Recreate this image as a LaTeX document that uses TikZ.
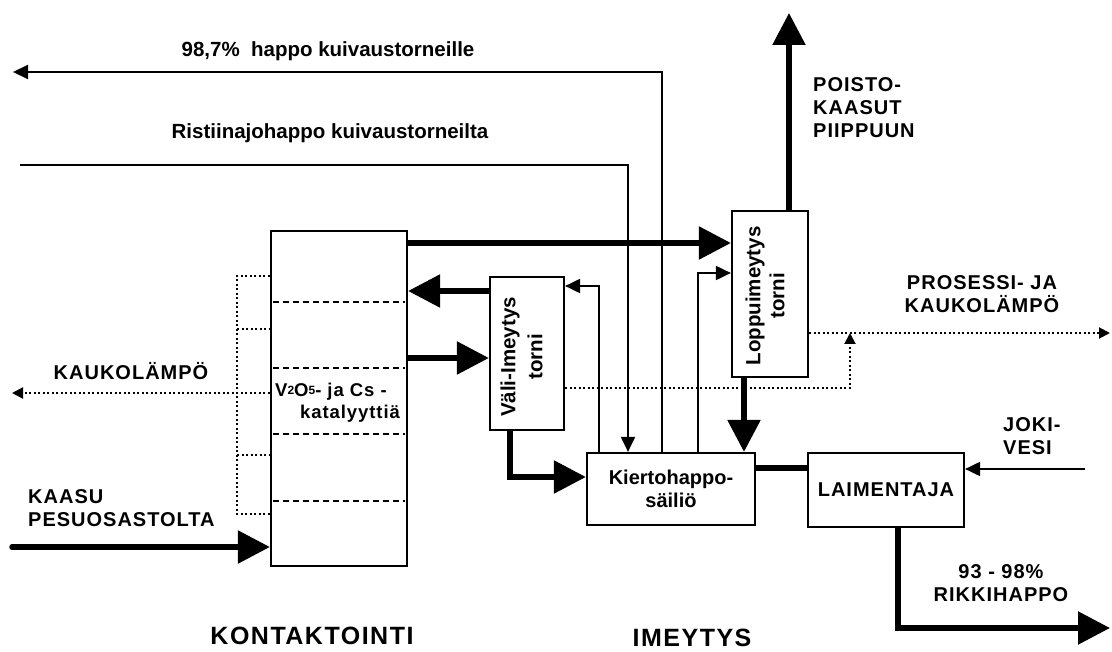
\documentclass[tikz,border=0pt]{standalone}
\usepackage{fontspec}
\setmainfont{Liberation Sans}
\newfontfamily\spcfont[LetterSpace=5]{Liberation Sans}
\newfontfamily\bigfont[LetterSpace=6]{Liberation Sans}
\usetikzlibrary{arrows.meta}
\begin{document}
\begin{tikzpicture}[x=1pt,y=-1pt,
  box/.style={draw, line width=2.2pt, inner sep=0pt},
  thk/.style={line width=5.5pt},
  thkarr/.style={thk, -{Triangle[length=32pt,width=32pt]}},
  thn/.style={line width=2pt},
  thnarr/.style={thn, -{Triangle[length=15pt,width=14pt]}},
  dotline/.style={line width=2pt, dash pattern=on 2pt off 2.5pt},
  dotarr/.style={dotline, -{Triangle[length=11pt,width=11pt]}},
  dashl/.style={line width=1.3pt, dash pattern=on 6pt off 4pt},
  lbl/.style={font=\bfseries\fontsize{20.5}{24}\selectfont, inner sep=0pt},
  capl/.style={font=\spcfont\bfseries\fontsize{20}{23}\selectfont, inner sep=0pt},
  bigl/.style={font=\bigfont\bfseries\fontsize{25}{28}\selectfont, inner sep=0pt},
  catl/.style={font=\spcfont\bfseries\fontsize{18.5}{22}\selectfont, inner sep=0pt},
]
\useasboundingbox[fill=white] (0,0) rectangle (1112,652);

% boxes
\node[box, minimum width=136, minimum height=335] (reactor) at (339,398.5) {};
\node[box, minimum width=74, minimum height=153] (vali) at (527,353.5) {};
\node[box, minimum width=76, minimum height=166] (loppu) at (770,294) {};
\node[box, minimum width=168, minimum height=72, align=center,
      font=\bfseries\fontsize{20}{23}\selectfont] (tank) at (671,489) {Kiertohappo-\\säiliö};
\node[box, minimum width=156, minimum height=74,
      font=\spcfont\bfseries\fontsize{20}{23}\selectfont] (laim) at (886,490) {LAIMENTAJA};

% helper coordinates
\coordinate (yA) at (0,243);
\coordinate (yB) at (0,291);
\coordinate (yC) at (0,358);
\coordinate (dbend) at (510,477);
\coordinate (xE) at (744,0);
\coordinate (stack) at (789,13);
\coordinate (yG) at (0,468);
\coordinate (hbend) at (898,628);
\coordinate (hend) at (1110,628);
\coordinate (gasin) at (12,547);
\coordinate (jbend) at (599,286);
\coordinate (kbend) at (698,273);
\coordinate (lstart) at (20,165);
\coordinate (lbend) at (628,165);
\coordinate (mbend) at (662,72);
\coordinate (mend) at (13,72);
\coordinate (joki) at (1085,469);
\coordinate (oend) at (1110,333);
\coordinate (pbend) at (850,388);
\coordinate (ptip) at (850,333);
\coordinate (qend) at (12,393);
\coordinate (br1) at (237,276);
\coordinate (br2) at (237,329);
\coordinate (br3) at (237,455);
\coordinate (br4) at (237,514);

% dashed catalyst layers
\foreach \yy in {302,368,434,501}{
  \draw[dashl] ([xshift=3pt]reactor.west |- 0,\yy) -- ([xshift=-3pt]reactor.east |- 0,\yy);
}

% dotted bracket and heat lines
\draw[dotline] (reactor.west |- br1) -- (br1) -- (br4) -- (reactor.west |- br4);
\draw[dotline] (br2) -- (reactor.west |- br2);
\draw[dotline] (br3) -- (reactor.west |- br3);
\draw[dotarr] (reactor.west |- qend) -- (qend);
\draw[dotarr] (loppu.east |- oend) -- (oend);
\draw[dotarr] (vali.east |- pbend) -- (pbend) -- (ptip);

% thin connectors
\draw[thnarr] (lstart) -- (lbend) -- (tank.north -| lbend);
\draw[thnarr] (tank.north -| mbend) -- (mbend) -- (mend);
\draw[thnarr] (tank.north -| jbend) -- (jbend) -- (vali.east |- jbend);
\draw[thnarr] (tank.north -| kbend) -- (kbend) -- (loppu.west |- kbend);
\draw[thnarr] (joki) -- (laim.east |- joki);

% thick connectors
\draw[thkarr] (reactor.east |- yA) -- (loppu.west |- yA);
\draw[thkarr] (vali.west |- yB) -- (reactor.east |- yB);
\draw[thkarr] (reactor.east |- yC) -- (vali.west |- yC);
\draw[thkarr] (vali.south -| dbend) -- (dbend) -- (tank.west |- dbend);
\draw[thkarr] (loppu.south -| xE) -- (tank.north -| xE);
\draw[thkarr] (loppu.north -| stack) -- (stack);
\draw[thk] (tank.east |- yG) -- (laim.west |- yG);
\draw[thkarr] (laim.south -| hbend) -- (hbend) -- (hend);
\draw[thkarr, line cap=round] (gasin) -- (reactor.west |- gasin);

% labels
\node[lbl] (t1) at (328,51) {98,7\%\ \ happo kuivaustorneille};
\node[lbl] (t2) at (330,133) {Ristiinajohappo kuivaustorneilta};
\node[capl] (t3) at (131,371) {KAUKOLÄMPÖ};
\node[capl, align=left, anchor=west] (t4) at (28,508) {KAASU\\PESUOSASTOLTA};
\node[catl, anchor=west] (t5) at (275,392) {V\raisebox{2.5pt}{\fontsize{12}{12}\selectfont 2}O\raisebox{2.5pt}{\fontsize{12}{12}\selectfont 5}- ja Cs -};
\node[catl, anchor=west] (t6) at (300,414) {katalyyttiä};
\node[font=\bfseries\fontsize{20.5}{27}\selectfont, inner sep=0pt, rotate=90, align=center] (t7) at (521.5,357) {Väli-Imeytys\\torni};
\node[font=\bfseries\fontsize{20.5}{24}\selectfont, inner sep=0pt, rotate=90, align=center] (t8) at (765,296) {Loppuimeytys\\torni};
\node[capl, align=left, anchor=west] (t9) at (813,108) {POISTO-\\KAASUT\\PIIPPUUN};
\node[capl, align=center] (t10) at (982,294) {PROSESSI- JA\\KAUKOLÄMPÖ};
\node[capl, align=left, anchor=west] (t11) at (1003,436.5) {JOKI-\\VESI};
\node[capl, align=center] (t12) at (1001,583) {93 - 98\%\\RIKKIHAPPO};
\node[bigl] (t13) at (312,636) {KONTAKTOINTI};
\node[bigl] (t14) at (692,638) {IMEYTYS};
\end{tikzpicture}
\end{document}
